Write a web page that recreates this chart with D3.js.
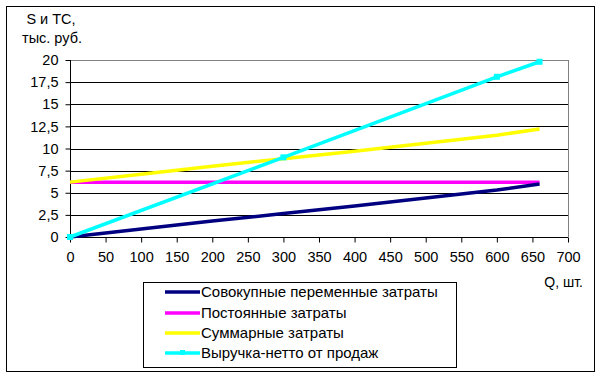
<!DOCTYPE html>
<html>
<head>
<meta charset="utf-8">
<script src="https://cdn.jsdelivr.net/npm/d3@7"></script>
<style>
  body { margin: 0; background: #fff; }
  svg { display: block; font-family: "Liberation Sans", Arial, sans-serif; }
</style>
</head>
<body>
<svg id="chart" width="601" height="379"></svg>
<script>
// volumes (Q, pcs) for the cost series
const qCost = [0, 100, 200, 300, 400, 500, 600, 660];
const variableCost = [0, 0.9, 1.8, 2.65, 3.5, 4.4, 5.3, 6.0];
const fixedCost = [6.2, 6.2, 6.2, 6.2, 6.2, 6.2, 6.2, 6.2];
const totalCost = [6.2, 7.1, 8.0, 8.85, 9.7, 10.6, 11.5, 12.2];
// revenue series has its own points (markers visible)
const qRevenue = [0, 300, 600, 660];
const revenue = [0, 9.0, 18.1, 19.8];

const xTicks = [0, 50, 100, 150, 200, 250, 300, 350, 400, 450, 500, 550, 600, 650, 700];
const yTicks = [0, 2.5, 5, 7.5, 10, 12.5, 15, 17.5, 20];

const seriesNames = [
  'Совокупные переменные затраты',
  'Постоянные затраты',
  'Суммарные затраты',
  'Выручка-нетто от продаж'
];
const seriesColors = ['#000080', '#ff00ff', '#ffff00', '#00ffff'];

const svg = d3.select('#chart');
const margin = {left: 70, right: 33, top: 60, bottom: 142};
const width = 601, height = 379;

// outer frame
svg.append('rect')
  .attr('x', 6.5).attr('y', 6.5)
  .attr('width', 588).attr('height', 365)
  .attr('fill', 'none').attr('stroke', '#000').attr('stroke-width', 1);

const x = d3.scaleLinear().domain([0, 700]).range([margin.left, width - margin.right]);
const y = d3.scaleLinear().domain([0, 20]).range([height - margin.bottom, margin.top]);

const fmt = d => String(d).replace('.', ',');

// gridlines
svg.append('g')
  .selectAll('line')
  .data(yTicks.filter(d => d > 0))
  .enter().append('line')
  .attr('x1', x(0)).attr('x2', x(700))
  .attr('y1', d => Math.round(y(d)) + 0.5).attr('y2', d => Math.round(y(d)) + 0.5)
  .attr('stroke', d => d === 20 ? '#808080' : '#000')
  .attr('stroke-width', 1);

// right border of plot area
svg.append('line')
  .attr('x1', Math.round(x(700)) + 0.5).attr('x2', Math.round(x(700)) + 0.5)
  .attr('y1', y(20)).attr('y2', y(0))
  .attr('stroke', '#808080');

// axes
const yAxis = svg.append('g')
  .attr('transform', 'translate(' + (Math.round(x(0)) + 0.5) + ',0)')
  .call(d3.axisLeft(y).tickValues(yTicks).tickFormat(fmt).tickSize(5).tickPadding(7)
    .offset(0.5));
const xAxis = svg.append('g')
  .attr('transform', 'translate(0,' + (Math.round(y(0)) + 0.5) + ')')
  .call(d3.axisBottom(x).tickValues(xTicks).tickFormat(fmt).tickSize(5).tickPadding(9)
    .offset(0.5));

[yAxis, xAxis].forEach(a => {
  a.select('.domain').attr('stroke', '#000');
  a.selectAll('.tick line').attr('stroke', '#000');
  a.selectAll('.tick text').attr('font-size', 14.5).attr('fill', '#000')
    .attr('font-family', '"Liberation Sans", Arial, sans-serif');
});
yAxis.select('.domain').attr('d', 'M0,' + y(0) + 'V' + y(20));
xAxis.select('.domain').attr('d', 'M' + x(0) + ',0H' + x(700));

// axis titles
svg.append('text').attr('x', 51).attr('y', 24).attr('text-anchor', 'middle')
  .attr('font-size', 14.5).text('S и TC,');
svg.append('text').attr('x', 52).attr('y', 43).attr('text-anchor', 'middle')
  .attr('font-size', 14.5).text('тыс. руб.');
svg.append('text').attr('x', 583).attr('y', 287).attr('text-anchor', 'end')
  .attr('font-size', 14).text('Q, шт.');

// lines
const line = d3.line().x(d => x(d[0])).y(d => y(d[1]));
const costSeries = [variableCost, fixedCost, totalCost];
const plot = svg.append('g');
[fixedCost, totalCost, variableCost].forEach(vals => {
  const i = costSeries.indexOf(vals);
  plot.append('path')
    .datum(qCost.map((q, k) => [q, vals[k]]))
    .attr('d', line)
    .attr('fill', 'none')
    .attr('stroke', seriesColors[i])
    .attr('stroke-width', 3.5)
    .attr('stroke-linejoin', 'round');
});
const revPts = qRevenue.map((q, k) => [q, revenue[k]]);
plot.append('path')
  .datum(revPts)
  .attr('d', line)
  .attr('fill', 'none')
  .attr('stroke', seriesColors[3])
  .attr('stroke-width', 3.5)
  .attr('stroke-linejoin', 'round');
plot.selectAll('.marker')
  .data(revPts)
  .enter().append('rect')
  .attr('class', 'marker')
  .attr('x', d => x(d[0]) - 3).attr('y', d => y(d[1]) - 3)
  .attr('width', 6).attr('height', 6)
  .attr('fill', seriesColors[3]);

// legend
const lg = svg.append('g');
lg.append('rect')
  .attr('x', 143.5).attr('y', 282.5).attr('width', 313).attr('height', 85)
  .attr('fill', '#fff').attr('stroke', '#000');
const rowY = [292, 313, 333, 353];
seriesNames.forEach((name, i) => {
  lg.append('line')
    .attr('x1', 165).attr('x2', 200)
    .attr('y1', rowY[i]).attr('y2', rowY[i])
    .attr('stroke', seriesColors[i]).attr('stroke-width', 3.5);
  if (i === 3) {
    lg.append('rect').attr('x', 180).attr('y', rowY[i] - 3)
      .attr('width', 5).attr('height', 5).attr('fill', seriesColors[i]);
  }
  lg.append('text')
    .attr('x', 201).attr('y', rowY[i] + 5)
    .attr('font-size', 15).text(name);
});
</script>
</body>
</html>
